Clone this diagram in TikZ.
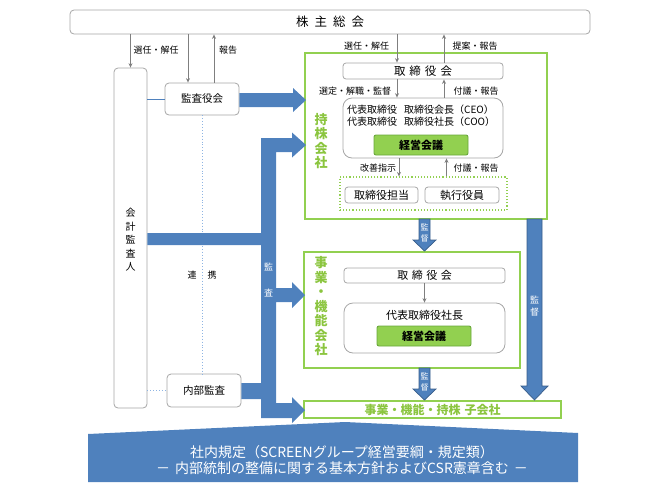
\documentclass[tikz,border=0pt]{standalone}
\usepackage{fontspec}
\setmainfont{Noto Sans CJK JP}
\usetikzlibrary{arrows.meta}
\definecolor{blu}{HTML}{4F81BD}
\definecolor{blud}{HTML}{385D8A}
\definecolor{grn}{HTML}{92D050}
\definecolor{grntxt}{HTML}{8BC53F}
\definecolor{kkb}{HTML}{6AA83C}
\definecolor{boxgray}{HTML}{A6A6A6}
\definecolor{arrgray}{HTML}{7F7F7F}
\definecolor{dotblu}{HTML}{8EB4E3}
\begin{document}
\begin{tikzpicture}[x=1pt,y=-1pt,
  gbox/.style={draw=boxgray, rounded corners=4pt, fill=white, line width=0.8pt, inner sep=0pt, font=\fontsize{10.5}{12}\selectfont},
  grbox/.style={draw=grn, line width=1.3pt, inner sep=0pt},
  kk/.style={draw=kkb, fill=grn, rounded corners=2pt, line width=0.9pt, inner sep=0pt, font=\fontsize{11}{13}\selectfont\bfseries},
  lbl/.style={font=\fontsize{9}{10}\selectfont, inner sep=0pt},
  arr/.style={draw=arrgray, line width=0.9pt, -{Stealth[length=4.5pt,width=4pt]}},
  bigblue/.style={fill=blu, draw=none},
  kantoku/.style={fill=blu, draw=blud, line width=0.7pt},
  wtxt/.style={text=white, align=center, inner sep=0pt, font=\fontsize{8}{10.5}\selectfont},
  gtxt/.style={text=grntxt, align=center, inner sep=0pt, font=\fontsize{13}{14.5}\selectfont\bfseries}
]
\useasboundingbox (0,0) rectangle (650,488);

% green company boxes
\node[grbox, minimum width=242pt, minimum height=166pt] (hd) at (426,136) {};
\node[grbox, minimum width=216pt, minimum height=116pt] (jg) at (412,310) {};
\node[grbox, minimum width=257pt, minimum height=17pt, text=grntxt, font=\fontsize{12}{14}\selectfont\bfseries] (sub) at (432.5,409.5) {事業・機能・持株\hspace{4pt}子会社};
\node[gtxt] (hdl) at (321,141) {持\\株\\会\\社};
\node[gtxt] (jgl) at (321,306.5) {事\\業\\・\\機\\能\\会\\社};

% top box
\node[gbox, minimum width=520pt, minimum height=24pt, font=\fontsize{12.5}{14}\selectfont] (sh) at (330,22) {株\hspace{6pt}主\hspace{6pt}総\hspace{6pt}会};

% left side
\node[gbox, minimum width=33pt, minimum height=340pt] (kaikei) at (130.5,238) {};
\node[inner sep=0pt, align=center, font=\fontsize{10}{13.5}\selectfont] (kaikeil) at (130.5,240) {会\\計\\監\\査\\人};
\node[gbox, minimum width=74pt, minimum height=32pt] (kansa) at (202,99) {監査役会};
\node[gbox, minimum width=74pt, minimum height=33pt] (naibu) at (204,390.5) {内部監査};

% holding company inside
\node[gbox, rounded corners=3pt, minimum width=160pt, minimum height=16pt, font=\fontsize{11.5}{13}\selectfont] (tb1) at (423,71) {取\hspace{4pt}締\hspace{4pt}役\hspace{4pt}会};
\node[gbox, rounded corners=9pt, minimum width=160pt, minimum height=60pt] (ex1) at (423,128) {};
\node[inner sep=0pt, anchor=west, align=left, font=\fontsize{10}{11.5}\selectfont] (ex1t) at (347,115.5) {代表取締役\hspace{7pt}取締役会長（CEO）\\代表取締役\hspace{7pt}取締役社長（COO）};
\node[kk, minimum width=94pt, minimum height=20pt] (kk1) at (421,145) {経営会議};
\node[draw=grn, dotted, line width=1.1pt, minimum width=167pt, minimum height=33pt, inner sep=0pt] (dot) at (423.5,193.5) {};
\node[gbox, rounded corners=3pt, minimum width=73pt, minimum height=16pt, font=\fontsize{11}{13}\selectfont] (tt) at (381.5,195) {取締役担当};
\node[gbox, rounded corners=3pt, minimum width=74pt, minimum height=16pt, font=\fontsize{11}{13}\selectfont] (sy) at (462,195) {執行役員};

% business company inside
\node[gbox, rounded corners=3pt, minimum width=161pt, minimum height=15pt, font=\fontsize{11}{13}\selectfont] (tb2) at (424.5,275.5) {取\hspace{3.5pt}締\hspace{3.5pt}役\hspace{3.5pt}会};
\node[gbox, rounded corners=9pt, minimum width=161pt, minimum height=50pt] (ex2) at (424.5,328) {};
\node[inner sep=0pt, font=\fontsize{11}{13}\selectfont] (ex2t) at (424.5,315) {代表取締役社長};
\node[kk, minimum width=94pt, minimum height=20pt] (kk2) at (424,336) {経営会議};

% thin connectors
\draw[arr] (kaikei.north |- sh.south) -- (kaikei.north);
\draw[arr] ([xshift=-14pt]kansa.north |- sh.south) -- ([xshift=-14pt]kansa.north);
\draw[arr] ([xshift=12pt]kansa.north) -- ([xshift=12pt]kansa.north |- sh.south);
\draw[arr] ([xshift=-26pt]tb1.north |- sh.south) -- ([xshift=-26pt]tb1.north);
\draw[arr] ([xshift=21pt]tb1.north) -- ([xshift=21pt]tb1.north |- sh.south);
\draw[arr] ([xshift=-26pt]tb1.south) -- ([xshift=-26pt]tb1.south |- ex1.north);
\draw[arr] ([xshift=21pt]ex1.north) -- ([xshift=21pt]ex1.north |- tb1.south);
\draw[arr] ([xshift=-24pt]ex1.south) -- ([xshift=-24pt]ex1.south |- dot.north);
\draw[arr] ([xshift=23pt]dot.north) -- ([xshift=23pt]dot.north |- ex1.south);
\draw[arr] (tb2.south) -- (ex2.north);

% labels
\node[lbl] (l1) at (156,50) {選任・解任};
\node[lbl] (l2) at (228,50) {報告};
\node[lbl] (l3) at (366.5,46) {選任・解任};
\node[lbl] (l4) at (475,46) {提案・報告};
\node[lbl] (l5) at (355,91) {選定・解職・監督};
\node[lbl] (l6) at (476,91) {付議・報告};
\node[lbl] (l7) at (378,168) {改善指示};
\node[lbl] (l8) at (476,168) {付議・報告};

% blue thin links
\draw[blu, line width=1pt] (kansa.west -| kaikei.east) -- (kansa.west);
\draw[dotblu, dotted, line width=0.9pt] (kansa.south) -- (kansa.south |- naibu.north);
\draw[dotblu, dotted, line width=0.9pt] (naibu.west -| kaikei.east) -- (naibu.west);
\node[inner sep=0pt, font=\fontsize{9}{10}\selectfont] (renkei) at (202,275) {連\hspace{11pt}携};

% big blue arrows
\fill[bigblue] (kansa.east |- 0,93) -- (293,93) -- (293,88) -- (306,100) -- (293,112) -- (293,107) -- (kansa.east |- 0,107) -- cycle;
\fill[bigblue] (261,138) -- (292,138) -- (292,132.5) -- (306,145) -- (292,157.5) -- (292,152) -- (276,152)
  -- (276,288) -- (292,288) -- (292,282) -- (305,295) -- (292,308) -- (292,302) -- (276,302)
  -- (276,403) -- (292,403) -- (292,397) -- (305,410) -- (292,423) -- (292,418) -- (261,418)
  -- (261,399) -- (naibu.east |- 0,399) -- (naibu.east |- 0,383) -- (261,383)
  -- (261,245) -- (kaikei.east |- 0,245) -- (kaikei.east |- 0,233) -- (261,233) -- cycle;
\node[wtxt, font=\fontsize{9}{10}\selectfont] (kansa1) at (268.5,267) {監};
\node[wtxt, font=\fontsize{9}{10}\selectfont] (kansa2) at (268.5,293) {査};

% kantoku arrows
\draw[kantoku] (419,219) -- (430,219) -- (430,240) -- (436,240) -- (424.5,251) -- (413,240) -- (419,240) -- cycle;
\node[wtxt] (k1) at (424.5,233) {監\\督};
\draw[kantoku] (419,368) -- (430,368) -- (430,389) -- (436,389) -- (424.5,400) -- (413,389) -- (419,389) -- cycle;
\node[wtxt] (k2) at (424.5,382) {監\\督};
\draw[kantoku] (527,219) -- (542,219) -- (542,386) -- (548,386) -- (534.5,400) -- (521,386) -- (527,386) -- cycle;
\node[wtxt, font=\fontsize{9}{12}\selectfont] (k3) at (534.5,306) {監\\督};

% bottom banner
\fill[blu] (88,434) -- (345,422) -- (578,433) -- (578,482) -- (88,482) -- cycle;
\node[text=white, align=center, inner sep=0pt, font=\fontsize{14}{16.5}\selectfont] (rule) at (342,460) {社内規定（SCREENグループ経営要綱・規定類）\\－\hspace{5pt}内部統制の整備に関する基本方針およびCSR憲章含む\hspace{5pt}－};
\end{tikzpicture}
\end{document}
